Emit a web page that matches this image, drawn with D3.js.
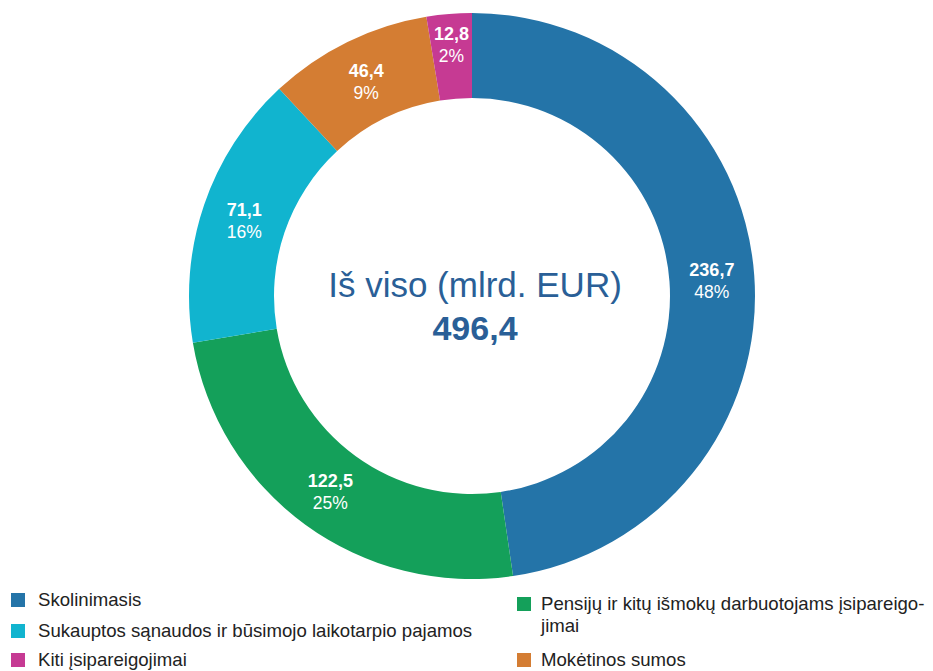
<!DOCTYPE html>
<html>
<head>
<meta charset="utf-8">
<script src="https://cdn.jsdelivr.net/npm/d3@7"></script>
<style>
  body { margin: 0; background: #fff; }
  svg text { font-family: "Liberation Sans", Arial, Helvetica, sans-serif; }
</style>
</head>
<body>
<div id="chart"></div>
<script>
// clockwise from 12 o'clock, mlrd. EUR
var categories = ["Skolinimasis", "Pensijų ir kitų išmokų darbuotojams įsipareigojimai", "Sukauptos sąnaudos ir būsimojo laikotarpio pajamos", "Mokėtinos sumos", "Kiti įsipareigojimai"];
// slice sizes as drawn in the picture (they add up to the 496,4 total)
var shares = [236.7, 122.5, 78.0, 46.4, 12.8];
// labels as printed on the slices
var valueLabels = ["236,7", "122,5", "71,1", "46,4", "12,8"];
var percents = ["48%", "25%", "16%", "9%", "2%"];
var colors = ["#2474a8", "#14a05a", "#11b4cf", "#d47d33", "#c63a93"];
var totalLabel = "Iš viso (mlrd. EUR)";
var totalValue = "496,4";

// legend: [text lines, column, row]
var legendItems = [
  [["Skolinimasis"], 0, 0],
  [["Sukauptos sąnaudos ir būsimojo laikotarpio pajamos"], 0, 1],
  [["Kiti įsipareigojimai"], 0, 2],
  [["Pensijų ir kitų išmokų darbuotojams įsipareigo-", "jimai"], 1, 0],
  [["Mokėtinos sumos"], 1, 2]
];
var legendColors = ["#2474a8", "#11b4cf", "#c63a93", "#14a05a", "#d47d33"];

var svg = d3.select("#chart").append("svg")
    .attr("width", 933)
    .attr("height", 671);

var cx = 472, cy = 296, outerR = 283, innerR = 198;

var pie = d3.pie().sort(null).value(function(d){ return d; });
var arc = d3.arc().innerRadius(innerR).outerRadius(outerR);
// thin slices get their label pushed a bit towards the outer edge
var arcOuter = d3.arc().innerRadius(innerR + 13).outerRadius(outerR + 13);

var g = svg.append("g").attr("transform", "translate(" + cx + "," + cy + ")");
var arcs = pie(shares);

g.selectAll("path.slice")
  .data(arcs)
  .enter().append("path")
    .attr("class", "slice")
    .attr("d", arc)
    .attr("fill", function(d, i){ return colors[i]; });

var lbl = g.selectAll("g.lbl")
  .data(arcs)
  .enter().append("g")
    .attr("class", "lbl")
    .attr("transform", function(d){
      var c = (d.endAngle - d.startAngle < 0.2) ? arcOuter.centroid(d) : arc.centroid(d);
      return "translate(" + c[0] + "," + c[1] + ")";
    });

lbl.append("text")
  .attr("text-anchor", "middle")
  .attr("y", -3)
  .attr("fill", "#fff")
  .attr("font-weight", "bold")
  .attr("font-size", 18)
  .text(function(d, i){ return valueLabels[i]; });

lbl.append("text")
  .attr("text-anchor", "middle")
  .attr("y", 19)
  .attr("fill", "#fff")
  .attr("font-size", 17.5)
  .text(function(d, i){ return percents[i]; });

// centre text
g.append("text")
  .attr("text-anchor", "middle")
  .attr("x", 3)
  .attr("y", 1)
  .attr("fill", "#2a5f97")
  .attr("font-size", 35)
  .text(totalLabel);

g.append("text")
  .attr("text-anchor", "middle")
  .attr("x", 3)
  .attr("y", 44)
  .attr("fill", "#2a5f97")
  .attr("font-weight", "bold")
  .attr("font-size", 34)
  .text(totalValue);

// legend
var colX = [11, 517], textX = [27, 24];
var rowY = [[600, 631, 660], [604, 631, 660]];
var leg = svg.selectAll("g.legend")
  .data(legendItems)
  .enter().append("g")
    .attr("class", "legend")
    .attr("transform", function(d){
      return "translate(" + colX[d[1]] + "," + rowY[d[1]][d[2]] + ")";
    });

leg.append("rect")
  .attr("x", 0).attr("y", -7)
  .attr("width", 14).attr("height", 14)
  .attr("fill", function(d, i){ return legendColors[i]; });

leg.append("text")
  .attr("y", 6)
  .attr("fill", "#222")
  .attr("font-size", 18.6)
  .each(function(d){
    var t = d3.select(this);
    d[0].forEach(function(line, i){
      t.append("tspan")
        .attr("x", textX[d[1]])
        .attr("dy", i ? 22 : 0)
        .text(line);
    });
  });
</script>
</body>
</html>
